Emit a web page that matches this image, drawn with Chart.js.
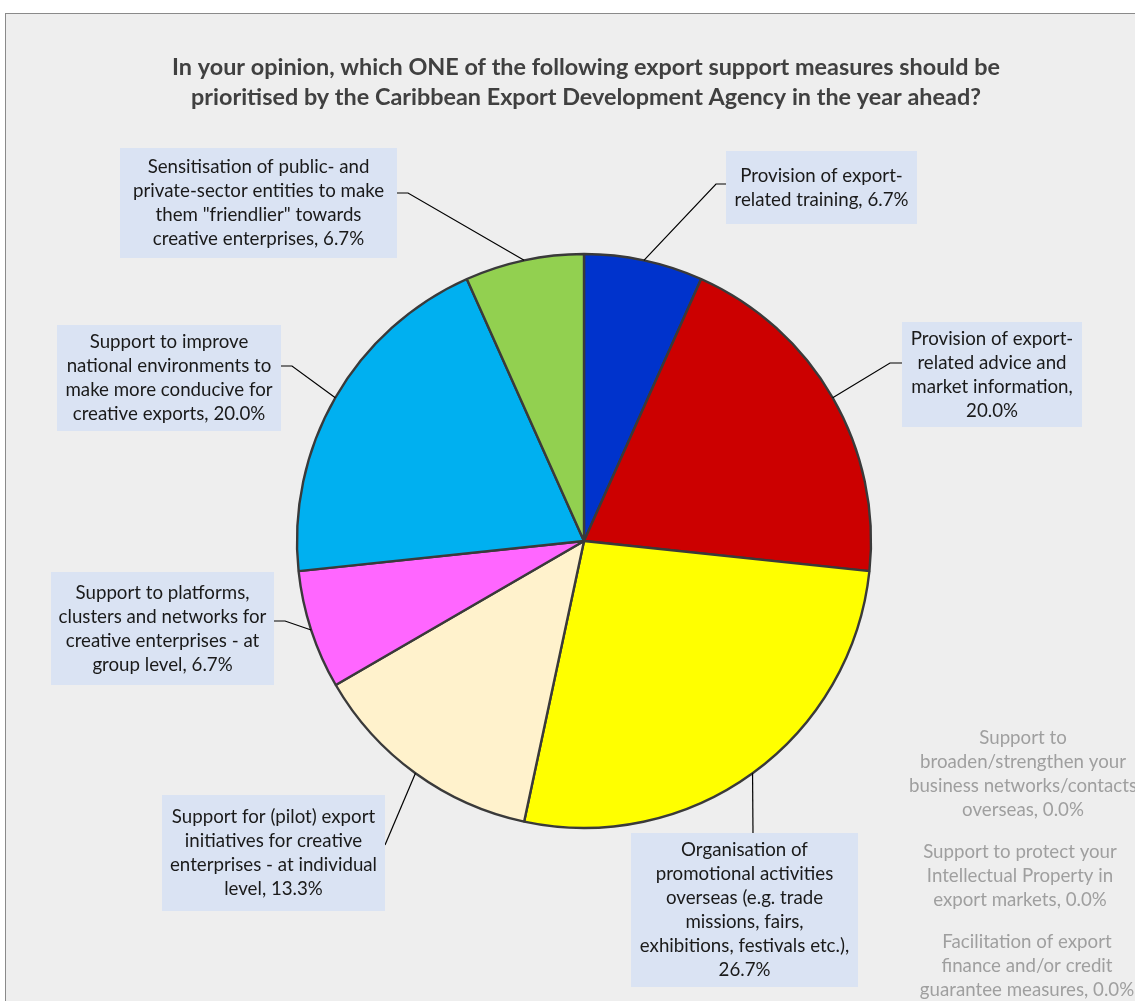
<!DOCTYPE html>
<html>
<head>
<meta charset="utf-8">
<title>Export support priorities</title>
<script src="https://cdn.jsdelivr.net/npm/chart.js@4"></script>
<style>
    html, body { margin: 0; padding: 0; background: #ffffff; }
    #page { position: relative; width: 1135px; height: 1001px; overflow: hidden; }
    #frame {
        position: absolute; left: 5px; top: 13px; right: 0; bottom: 0;
        background: #eeeeee;
        border-top: 1px solid #8a8a8a;
        border-left: 1px solid #8a8a8a;
    }
    #chartWrap { position: absolute; left: 0; top: 0; width: 1135px; height: 1001px; }
</style>
</head>
<body>
<div id="page">
    <div id="frame"></div>
    <div id="chartWrap"><canvas id="pieChart" width="1135" height="1001"></canvas></div>
</div>
<script>
/**
 * Survey pie: preferred export support measure
 */

const titleLines = [
    'In your opinion, which ONE of the following export support measures should be',
    'prioritised by the Caribbean Export Development Agency in the year ahead?'
];

// Categories as wrapped label lines, {v} is replaced by the share
const categories = [
    ['Provision of export-', 'related training, {v}'],
    ['Provision of export-', 'related advice and', 'market information,', '{v}'],
    ['Organisation of', 'promotional activities', 'overseas (e.g. trade', 'missions, fairs,', 'exhibitions, festivals etc.),', '{v}'],
    ['Support for (pilot) export', 'initiatives for creative', 'enterprises - at individual', 'level, {v}'],
    ['Support to platforms,', 'clusters and networks for', 'creative enterprises - at', 'group level, {v}'],
    ['Support to improve', 'national environments to', 'make more conducive for', 'creative exports, {v}'],
    ['Sensitisation of public- and', 'private-sector entities to make', 'them "friendlier" towards', 'creative enterprises, {v}'],
    ['Support to', 'broaden/strengthen your', 'business networks/contacts', 'overseas, {v}'],
    ['Support to protect your', 'Intellectual Property in', 'export markets, {v}'],
    ['Facilitation of export', 'finance and/or credit', 'guarantee measures, {v}']
];

// Share of respondents (%)
const shares = [6.7, 20.0, 26.7, 13.3, 6.7, 20.0, 6.7, 0.0, 0.0, 0.0];

const sliceColors = ['#0033CC', '#CC0000', '#FFFF00', '#FFF2CC', '#FF66FF', '#00B0F0', '#92D050', '#A5A5A5', '#4472C4', '#70AD47'];

// Where each data label sits: box rect, and the elbow of its leader line
const labelLayout = [
    { box: [726, 151, 191, 73], elbow: [716, 184], end: [726, 184] },
    { box: [902, 322, 180, 105], elbow: [890, 363], end: [902, 363] },
    { box: [631, 833, 227, 154], elbow: null, end: [753, 833] },
    { box: [162, 795, 223, 116], elbow: null, end: [385, 845] },
    { box: [51, 572, 223, 113], elbow: [285, 621], end: [274, 621] },
    { box: [57, 325, 224, 106], elbow: [292, 366], end: [281, 366] },
    { box: [120, 148, 277, 110], elbow: [408, 193], end: [397, 193] },
    { text: [1023, 738] },
    { text: [1020, 852] },
    { text: [1027, 942] }
];

const LABEL_FONT = '18.7px Lato';
const LINE_H = 24;

function labelLines(i) {
    const v = shares[i].toFixed(1) + '%';
    return categories[i].map(line => line.replace('{v}', v));
}

const labelPlugin = {
    id: 'pieLabels',
    afterDatasetsDraw(chart) {
        const ctx = chart.ctx;
        const meta = chart.getDatasetMeta(0);

        ctx.save();

        // Title
        ctx.fillStyle = '#404040';
        ctx.font = 'bold 23.4px Lato';
        ctx.textAlign = 'center';
        ctx.textBaseline = 'middle';
        titleLines.forEach((line, k) => ctx.fillText(line, 586, 67 + k * 30));

        meta.data.forEach((arc, i) => {
            const layout = labelLayout[i];
            const lines = labelLines(i);
            ctx.font = LABEL_FONT;
            ctx.textAlign = 'center';
            ctx.textBaseline = 'middle';

            if (!layout.box) {
                // empty categories: grey text only
                ctx.fillStyle = '#9f9f9f';
                lines.forEach((line, k) => ctx.fillText(line, layout.text[0], layout.text[1] + k * LINE_H));
                return;
            }

            // Leader line from the slice's outer edge at its mid-angle
            const p = arc.getProps(['x', 'y', 'startAngle', 'endAngle', 'outerRadius'], true);
            const mid = (p.startAngle + p.endAngle) / 2;
            const sx = p.x + Math.cos(mid) * p.outerRadius;
            const sy = p.y + Math.sin(mid) * p.outerRadius;

            ctx.strokeStyle = '#000000';
            ctx.lineWidth = 1.2;
            ctx.beginPath();
            ctx.moveTo(sx, sy);
            if (layout.elbow) ctx.lineTo(layout.elbow[0], layout.elbow[1]);
            ctx.lineTo(layout.end[0], layout.end[1]);
            ctx.stroke();

            const [bx, by, bw, bh] = layout.box;
            ctx.fillStyle = '#DAE3F3';
            ctx.fillRect(bx, by, bw, bh);

            ctx.fillStyle = '#1a1a1a';
            const cx = bx + bw / 2;
            const top = by + bh / 2 - (lines.length - 1) * LINE_H / 2;
            lines.forEach((line, k) => ctx.fillText(line, cx, top + k * LINE_H));
        });

        ctx.restore();
    }
};

const chart = new Chart(document.getElementById('pieChart'), {
    type: 'pie',
    data: {
        labels: categories.map(c => c.join(' ')),
        datasets: [{
            data: shares,
            backgroundColor: sliceColors,
            borderColor: '#3a3a3a',
            borderWidth: shares.map(v => v > 0 ? 2.4 : 0),
            hoverOffset: 0,
            offset: 0
        }]
    },
    options: {
        responsive: false,
        animation: false,
        events: [],
        radius: 287,
        rotation: 0,
        layout: {
            padding: { left: 297, top: 254, right: 264, bottom: 173 }
        },
        plugins: {
            legend: { display: false },
            title: { display: false },
            tooltip: { enabled: false }
        }
    },
    plugins: [labelPlugin]
});
</script>
</body>
</html>
